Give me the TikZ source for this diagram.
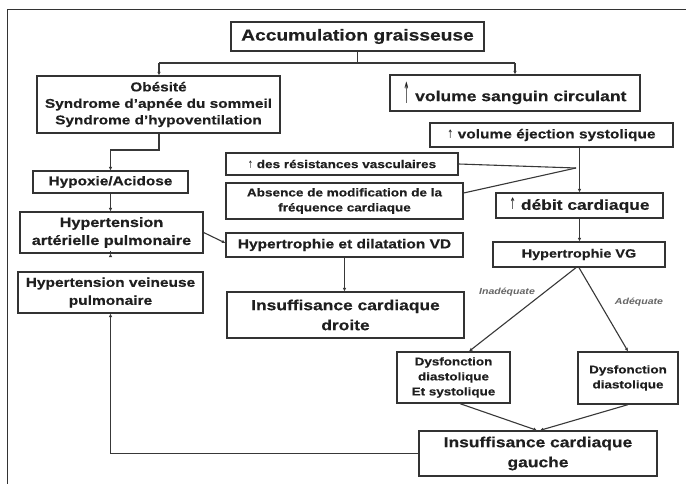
\documentclass[tikz,border=0pt]{standalone}
\usepackage{fontspec}
\usepackage{graphicx}
\setmainfont{Liberation Sans}[FakeStretch=1.2, BoldFeatures={FakeBold=0.4}]
\newfontfamily\arrfont{DejaVu Sans}
\newcommand{\uparr}[1]{\scalebox{0.55}[#1]{\arrfont\mdseries ↑}}
\usetikzlibrary{arrows.meta}
\begin{document}
\begin{tikzpicture}[x=1pt,y=-1pt,
  box/.style={draw=black!80, line width=1.3pt, inner sep=0pt, align=center, text=black!88},
  fs/.style 2 args={font=\bfseries\fontsize{#1}{#2}\selectfont},
  conn/.style={draw=black!78, line width=1.1pt},
  tip/.style={-{Latex[length=3.5pt,width=3.5pt]}},
  lab/.style={font=\bfseries\itshape\fontsize{#1}{#1}\selectfont, text=black!60, inner sep=0pt}]
\useasboundingbox (0,0) rectangle (686,484);
\fill[white] (0,0) rectangle (686,484);
\draw[black!80, line width=1pt] (686,10) -- (7,10) -- (7,484);

\node[box, fs={16}{18}, minimum width=253pt, minimum height=29pt] (acc) at (357.5,36.5) {Accumulation graisseuse};
\node[box, fs={12.8}{16.5}, minimum width=243pt, minimum height=57pt] (obes) at (158.5,104.5) {Obésité\\Syndrome d’apnée du sommeil\\Syndrome d’hypoventilation};
\node[box, fs={14.6}{16}, minimum width=250pt, minimum height=36pt] (vsang) at (515,93) {\raisebox{-2pt}{\uparr{2}}\ volume sanguin circulant};
\node[box, fs={12.9}{14}, minimum width=243pt, minimum height=24pt] (veje) at (551.5,135) {\uparr{0.9}\ volume éjection systolique};
\node[box, fs={11.3}{13}, minimum width=232pt, minimum height=22pt] (resist) at (342,164) {\uparr{0.9}\ des résistances vasculaires};
\node[box, fs={11.3}{15}, minimum width=237pt, minimum height=36pt] (absence) at (344.5,201) {Absence de modification de la\\fréquence cardiaque};
\node[box, fs={14.5}{16}, minimum width=167pt, minimum height=25pt] (debit) at (579.5,205.5) {\uparr{1.1}\ débit cardiaque};
\node[box, fs={12.8}{14}, minimum width=155pt, minimum height=22pt] (hypox) at (110.5,182) {Hypoxie/Acidose};
\node[box, fs={13.5}{18}, minimum width=183pt, minimum height=41pt] (hta) at (111.5,232.5) {Hypertension\\artérielle pulmonaire};
\node[box, fs={12.9}{14}, minimum width=237pt, minimum height=24pt] (vd) at (344.5,245) {Hypertrophie et dilatation VD};
\node[box, fs={12}{14}, minimum width=172pt, minimum height=25pt] (hvg) at (579,254.5) {Hypertrophie VG};
\node[box, fs={12.9}{18}, minimum width=185pt, minimum height=41pt] (htv) at (110.5,292.5) {Hypertension veineuse\\pulmonaire};
\node[box, fs={14.5}{20}, minimum width=237pt, minimum height=46pt] (icd) at (345.5,315) {Insuffisance cardiaque\\droite};
\node[box, fs={11.2}{15}, minimum width=113pt, minimum height=51pt] (dys1) at (453.5,377.5) {Dysfonction\\diastolique\\Et systolique};
\node[box, fs={11.2}{15}, minimum width=100pt, minimum height=52pt] (dys2) at (628,378) {Dysfonction\\diastolique};
\node[box, fs={14.5}{20}, minimum width=238pt, minimum height=45pt] (icg) at (538,453.5) {Insuffisance cardiaque\\gauche};

\node[lab=8.8] (linad) at (507,292) {Inadéquate};
\node[lab=8.8] (lad) at (639,302) {Adéquate};

% top bracket
\coordinate (jt) at (357.5,63);
\coordinate (jl) at (159,63);
\coordinate (jr) at (515,63);
\draw[conn] (acc.south) -- (jt);
\draw[conn] (jl) -- (jr);
\draw[conn, tip] (jl) -- (jl |- obes.north);
\draw[conn, tip] (jr) -- (vsang.north);

% left column
\coordinate (ob1) at (159,150);
\draw[conn, tip] (obes.south -| ob1) -- (ob1) -- (ob1 -| hypox.north) -- (hypox.north);
\draw[conn, tip] (hypox.south) -- (hypox.south |- hta.north);
\draw[conn, tip] (hta.south -| hypox.south) -- (hta.south -| hypox.south |- htv.north);
\draw[conn, tip] (hta.east) -- ([yshift=2pt]vd.west);
\draw[conn, tip] (vd.south) -- (vd.south |- icd.north);

% right column
\coordinate (jv) at (576,168);
\draw[conn, tip] (veje.south -| debit.north) -- (debit.north);
\draw[conn] (resist.east) -- (jv);
\draw[conn] ([yshift=8pt]absence.east) -- (jv);
\draw[conn, tip] (debit.south) -- (debit.south |- hvg.north);
\draw[conn, tip] ([xshift=-3pt]hvg.south) -- ([xshift=15.5pt]dys1.north);
\draw[conn, tip] (hvg.south) -- (dys2.north);
\draw[conn, tip] ([xshift=6.5pt]dys1.south) -- ([xshift=-1pt]icg.north);
\draw[conn, tip] (dys2.south) -- ([xshift=2pt]icg.north);

% feedback
\coordinate (fb) at (htv.south |- icg.west);
\draw[conn, tip] (icg.west) -- (fb) -- (htv.south);
\end{tikzpicture}
\end{document}
